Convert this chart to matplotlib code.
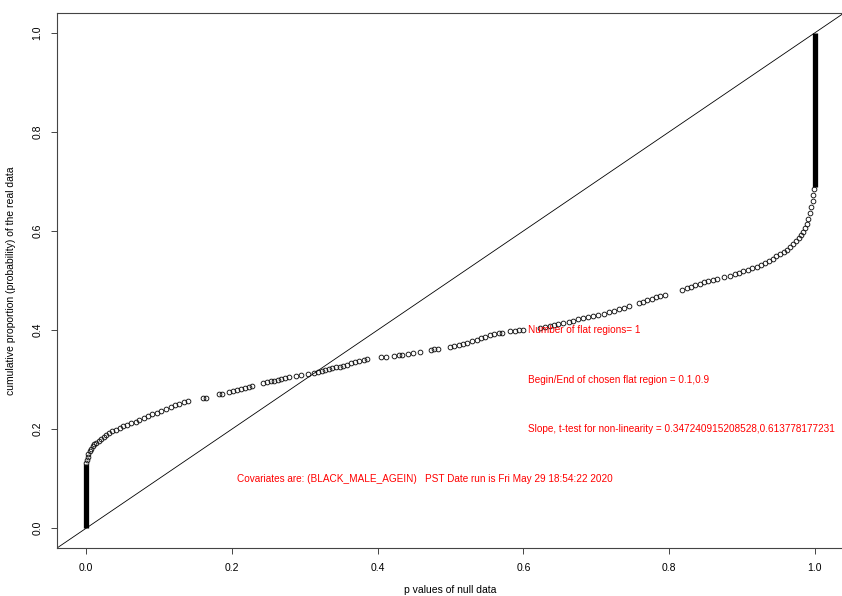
import numpy as np
import matplotlib
matplotlib.use("Agg")
import matplotlib.pyplot as plt

# p values of null data (x) vs cumulative proportion of the real data (y)
p_null = [0.000, 0.001, 0.002, 0.003, 0.005, 0.007, 0.009, 0.011, 0.014, 0.017,
          0.020, 0.024, 0.027, 0.031, 0.036, 0.041, 0.046, 0.051, 0.056,
          0.062, 0.068, 0.073, 0.079, 0.085, 0.091, 0.097, 0.103, 0.110, 0.116,
          0.122, 0.128, 0.134, 0.140,
          0.160, 0.164, 0.182, 0.186, 0.196, 0.201, 0.207, 0.212, 0.218, 0.223, 0.228,
          0.243, 0.248, 0.253, 0.258, 0.263, 0.268, 0.273, 0.278, 0.288, 0.295, 0.304,
          0.312, 0.318, 0.323, 0.328, 0.333, 0.338, 0.343, 0.348, 0.353, 0.358,
          0.364, 0.369, 0.375, 0.381, 0.386, 0.404, 0.411, 0.423, 0.429, 0.434,
          0.442, 0.449, 0.458, 0.473, 0.478, 0.483,
          0.499, 0.505, 0.511, 0.517, 0.523, 0.530, 0.536, 0.542, 0.548, 0.554,
          0.560, 0.566, 0.571, 0.582, 0.588, 0.594, 0.600,
          0.623, 0.629, 0.636, 0.642, 0.648, 0.655, 0.662, 0.668, 0.675, 0.682,
          0.689, 0.696, 0.703, 0.710, 0.717, 0.724, 0.731, 0.738, 0.745,
          0.758, 0.764, 0.770, 0.776, 0.782, 0.788, 0.794,
          0.818, 0.824, 0.830, 0.836, 0.842, 0.848, 0.854, 0.860, 0.866, 0.875, 0.884,
          0.890, 0.896, 0.902, 0.908, 0.914, 0.920, 0.926, 0.932, 0.937, 0.942,
          0.947, 0.952, 0.957, 0.962, 0.966, 0.970, 0.974, 0.978, 0.981, 0.984,
          0.987, 0.989, 0.991, 0.993, 0.995, 0.997, 0.998, 0.999]
cum_prop = [0.132, 0.138, 0.144, 0.149, 0.155, 0.160, 0.165, 0.169, 0.173, 0.177,
            0.181, 0.185, 0.189, 0.192, 0.196, 0.199, 0.202, 0.206, 0.209,
            0.212, 0.215, 0.219, 0.222, 0.226, 0.230, 0.233, 0.237, 0.241, 0.245,
            0.248, 0.251, 0.254, 0.256,
            0.262, 0.263, 0.270, 0.271, 0.275, 0.277, 0.279, 0.282, 0.284, 0.286, 0.288,
            0.293, 0.295, 0.297, 0.298, 0.300, 0.302, 0.303, 0.305, 0.308, 0.309, 0.311,
            0.314, 0.316, 0.317, 0.319, 0.321, 0.323, 0.325, 0.326, 0.328, 0.330,
            0.333, 0.336, 0.338, 0.340, 0.342, 0.345, 0.346, 0.348, 0.349, 0.350,
            0.352, 0.354, 0.356, 0.359, 0.361, 0.362,
            0.366, 0.368, 0.370, 0.372, 0.374, 0.377, 0.380, 0.383, 0.386, 0.389,
            0.392, 0.394, 0.395, 0.398, 0.399, 0.400, 0.401,
            0.405, 0.407, 0.409, 0.411, 0.413, 0.415, 0.417, 0.419, 0.422, 0.424,
            0.426, 0.428, 0.430, 0.433, 0.436, 0.439, 0.442, 0.445, 0.448,
            0.454, 0.457, 0.460, 0.463, 0.466, 0.469, 0.471,
            0.481, 0.484, 0.487, 0.490, 0.493, 0.496, 0.499, 0.502, 0.504, 0.507, 0.510,
            0.513, 0.516, 0.519, 0.522, 0.525, 0.528, 0.531, 0.535, 0.539, 0.544,
            0.549, 0.553, 0.557, 0.562, 0.567, 0.573, 0.579, 0.585, 0.591, 0.597,
            0.605, 0.614, 0.624, 0.636, 0.648, 0.660, 0.672, 0.684]

# tied p values at 0 and 1 pile up into solid stacks
stack_x = [0.0, 1.0]
stack_lo = [0.0, 0.688]
stack_hi = [0.129, 1.0]

x_ticks = [0.0, 0.2, 0.4, 0.6, 0.8, 1.0]
y_ticks = [0.0, 0.2, 0.4, 0.6, 0.8, 1.0]

notes = ["Number of flat regions= 1",
         "Begin/End of chosen flat region = 0.1,0.9",
         "Slope, t-test for non-linearity = 0.347240915208528,0.613778177231"]
notes_y = [0.4, 0.3, 0.2]
cov_note = "Covariates are: (BLACK_MALE_AGEIN)   PST Date run is Fri May 29 18:54:22 2020"

axfont = ["Liberation Sans Narrow", "Liberation Sans", "DejaVu Sans"]
redfont = ["Liberation Sans", "DejaVu Sans"]

fig = plt.figure(figsize=(8.42, 5.96), dpi=100)
ax = fig.add_axes([0.0677, 0.0805, 0.9347, 0.8977])

ax.vlines(stack_x, stack_lo, stack_hi, color="black", lw=3.8)
ax.plot(p_null, cum_prop, ls="none", marker="o", ms=3.4, mfc="none",
        mec="#111111", mew=0.65)
ax.axline((0, 0), slope=1, color="black", lw=0.6)

# the slope note runs past the right edge in the original as well
for t, yy in zip(notes, notes_y):
    ax.text(0.607, yy, t, color="red", fontsize=7.2, ha="left", va="center",
            family=redfont, clip_on=True)
ax.text(0.207, 0.1, cov_note, color="red", fontsize=7.2, ha="left", va="center",
        family=redfont)

ax.set_xlim(-0.04, 1.04)
ax.set_ylim(-0.04, 1.04)
ax.set_xticks(x_ticks)
ax.set_yticks(y_ticks)
ax.set_xticklabels([f"{v:.1f}" for v in x_ticks], family=axfont, fontsize=7.5)
ax.set_yticklabels([f"{v:.1f}" for v in y_ticks], family=axfont, fontsize=7.5,
                   rotation=90, va="center")
ax.tick_params(direction="out", length=4.5, width=0.7, color="#444444", pad=6)
for s in ax.spines.values():
    s.set_linewidth(0.8)
    s.set_color("#444444")

ax.set_xlabel("p values of null data", family=axfont, fontsize=7.5, labelpad=9)
ax.set_ylabel("cumulative proportion (probability) of the real data", family=axfont,
              fontsize=7.5, labelpad=12)

fig.savefig("out.png", dpi=100)
